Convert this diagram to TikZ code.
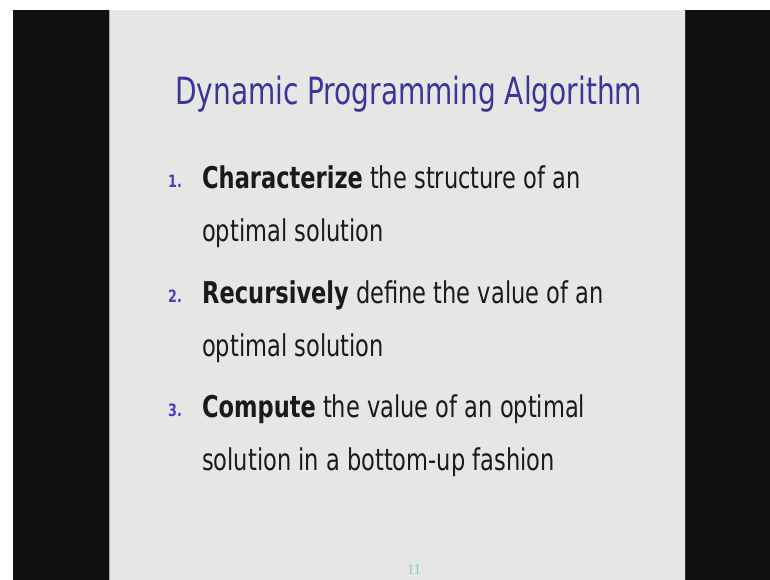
\documentclass[tikz,border=0pt]{standalone}
\usepackage{fontspec}
\setmainfont{DejaVu Sans Condensed}
\newfontfamily\titlefont[FakeStretch=0.83]{DejaVu Sans Condensed}
\newfontfamily\bodyfont[FakeStretch=0.835]{DejaVu Sans Condensed}
\newfontfamily\pagefont{Liberation Serif}
\definecolor{slidebg}{HTML}{E6E7E5}
\definecolor{frame}{HTML}{111111}
\definecolor{titleblue}{HTML}{3B3597}
\definecolor{numblue}{HTML}{4B3FC0}
\definecolor{pagegreen}{HTML}{79DBB2}
\definecolor{bodytext}{HTML}{1A1A1A}
\tikzset{
  titletext/.style={anchor=base west, inner sep=0pt, text=titleblue, font=\titlefont\fontsize{37.5}{37.5}\selectfont},
  itemnum/.style={anchor=base west, inner sep=0pt, text=numblue, font=\bodyfont\bfseries\fontsize{17}{17}\selectfont},
  itemtext/.style={anchor=base west, inner sep=0pt, text=bodytext, font=\bodyfont\fontsize{30}{30}\selectfont},
  pagenum/.style={anchor=base, inner sep=0pt, text=pagegreen, font=\pagefont\fontsize{15}{15}\selectfont}
}
\begin{document}
\begin{tikzpicture}[x=1pt,y=-1pt]
  \useasboundingbox (0,0) rectangle (770,580);
  \fill[white] (0,0) rectangle (770,580);
  % dark surround and slide area
  \fill[frame] (13,10) rectangle (770,580);
  \fill[slidebg] (109,10) rectangle (686,580);
  \draw[gray!70, line width=1pt] (109.5,10) -- (109.5,580);
  \draw[gray!40!black, line width=1pt] (685.5,10) -- (685.5,580);

  \node[titletext] (title) at (175,105) {Dynamic Programming Algorithm};

  \node[itemnum] (n1) at (168,187) {1.};
  \node[itemtext] (i1a) at (202,188) {\textbf{Characterize} the structure of an};
  \node[itemtext] (i1b) at (202,241) {optimal solution};

  \node[itemnum] (n2) at (168,302) {2.};
  \node[itemtext] (i2a) at (202,303) {\textbf{Recursively} define the value of an};
  \node[itemtext] (i2b) at (202,356) {optimal solution};

  \node[itemnum] (n3) at (168,416) {3.};
  \node[itemtext] (i3a) at (202,417) {\textbf{Compute} the value of an optimal};
  \node[itemtext] (i3b) at (202,470) {solution in a bottom-up fashion};

  \node[pagenum] (page) at (414,574) {11};
\end{tikzpicture}
\end{document}
